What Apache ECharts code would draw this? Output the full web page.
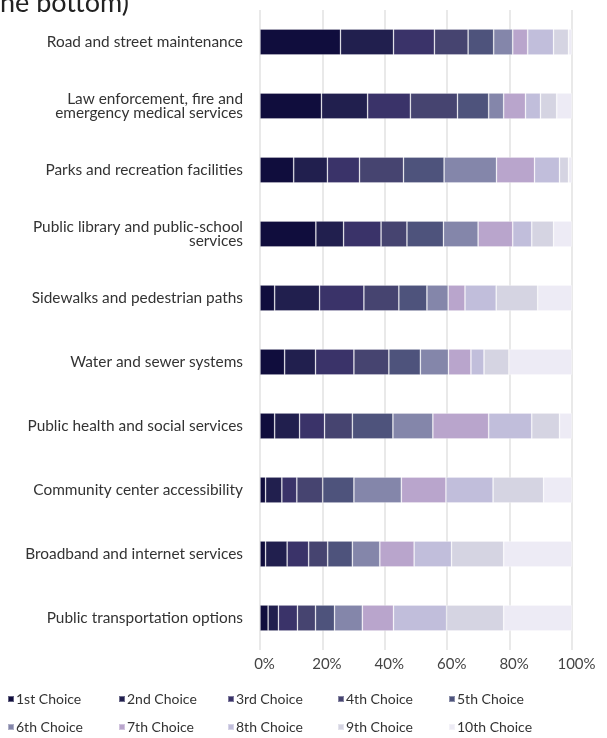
<!DOCTYPE html>
<html><head><meta charset="utf-8">
<script src="https://cdn.jsdelivr.net/npm/echarts@6/dist/echarts.min.js"></script>
<style>html,body{margin:0;padding:0;background:#fff}#c{width:607px;height:738px}</style>
</head><body><div id="c"></div>
<script>
const categories = [
  "Road and street maintenance",
  "Law enforcement, fire and\nemergency medical services",
  "Parks and recreation facilities",
  "Public library and public-school\nservices",
  "Sidewalks and pedestrian paths",
  "Water and sewer systems",
  "Public health and social services",
  "Community center accessibility",
  "Broadband and internet services",
  "Public transportation options"
];
const seriesNames = ["1st Choice","2nd Choice","3rd Choice","4th Choice","5th Choice","6th Choice","7th Choice","8th Choice","9th Choice","10th Choice"];
const choice1  = [25.8, 19.7, 10.8, 17.9, 4.7, 7.9, 4.7, 1.8, 1.8, 2.6];
const choice2  = [17.0, 14.8, 10.8, 8.9, 14.4, 9.9, 8.0, 5.2, 6.9, 3.3];
const choice3  = [13.1, 13.7, 10.3, 12.0, 14.2, 12.3, 8.0, 4.8, 6.9, 6.1];
const choice4  = [10.8, 15.1, 14.1, 8.3, 11.2, 11.2, 8.9, 8.3, 6.1, 5.8];
const choice5  = [8.2, 10.0, 13.0, 11.7, 9.0, 10.1, 13.0, 10.0, 7.9, 6.1];
const choice6  = [6.1, 4.8, 16.8, 11.1, 6.8, 9.0, 12.8, 15.2, 8.8, 8.9];
const choice7  = [4.8, 7.0, 12.2, 11.1, 5.4, 7.2, 17.9, 14.3, 11.0, 10.0];
const choice8  = [8.3, 4.8, 8.0, 6.1, 10.0, 4.2, 13.8, 15.1, 12.0, 17.0];
const choice9  = [4.8, 5.2, 2.9, 7.0, 13.3, 8.0, 8.9, 16.2, 16.7, 18.3];
const choice10 = [1.1, 4.9, 1.1, 5.9, 11.0, 20.2, 4.0, 9.1, 21.9, 21.9];
const xTicks = [0, 20, 40, 60, 80, 100];
const colors = ["#100d3d","#211f4e","#3a3369","#464470","#4e537c","#8486aa","#b9a5cc","#c1bedb","#d5d4e2","#edebf5"];

const allData = [choice1,choice2,choice3,choice4,choice5,choice6,choice7,choice8,choice9,choice10];
const FONT = "Lato";

const legendPos = [[7,692],[118,692],[227,692],[337,692],[448,692],[7,720],[118,720],[227,720],[337,720],[448,720]];
const legends = seriesNames.map((n,i)=>({
  data:[n], left: legendPos[i][0], top: legendPos[i][1],
  icon:'rect', itemWidth:6, itemHeight:6, itemGap:4, padding:0,
  textStyle:{fontFamily:FONT, fontSize:14, color:'#333', padding:[0,0,0,-3]},
  selectedMode:false
}));

const chart = echarts.init(document.getElementById('c'), null, {renderer:'canvas'});
chart.setOption({
  animation:false,
  color: colors,
  graphic:[{type:'text', x:129, y:17, style:{text:"Services ranked from the top to the bottom)", font:"27px "+FONT, fill:'#222', align:'right', verticalAlign:'bottom'}}],
  legend: legends,
  grid:{left:260, right:35, top:10, bottom:88, containLabel:false},
  xAxis:{type:'value', min:0, max:100, interval:20,
    axisLine:{show:false}, axisTick:{show:false},
    splitLine:{show:true, lineStyle:{color:'#e2e2e2', width:1.5}},
    axisLabel:{formatter: v => xTicks.includes(v) ? v + '%' : '', color:'#444', fontFamily:FONT, fontSize:15, margin:7, padding:[0,0,0,9]}
  },
  yAxis:{type:'category', data:categories, inverse:true,
    axisLine:{show:false}, axisTick:{show:false},
    axisLabel:{color:'#333', fontFamily:FONT, fontSize:15.4, margin:17, lineHeight:14, align:'right'}
  },
  series: seriesNames.map((n,i)=>({
    name:n, type:'bar', stack:'total', barWidth:26, data:allData[i],
    itemStyle:{color:colors[i], borderColor:'rgba(255,255,255,0.35)', borderWidth:0.8}
  }))
});
</script></body></html>
